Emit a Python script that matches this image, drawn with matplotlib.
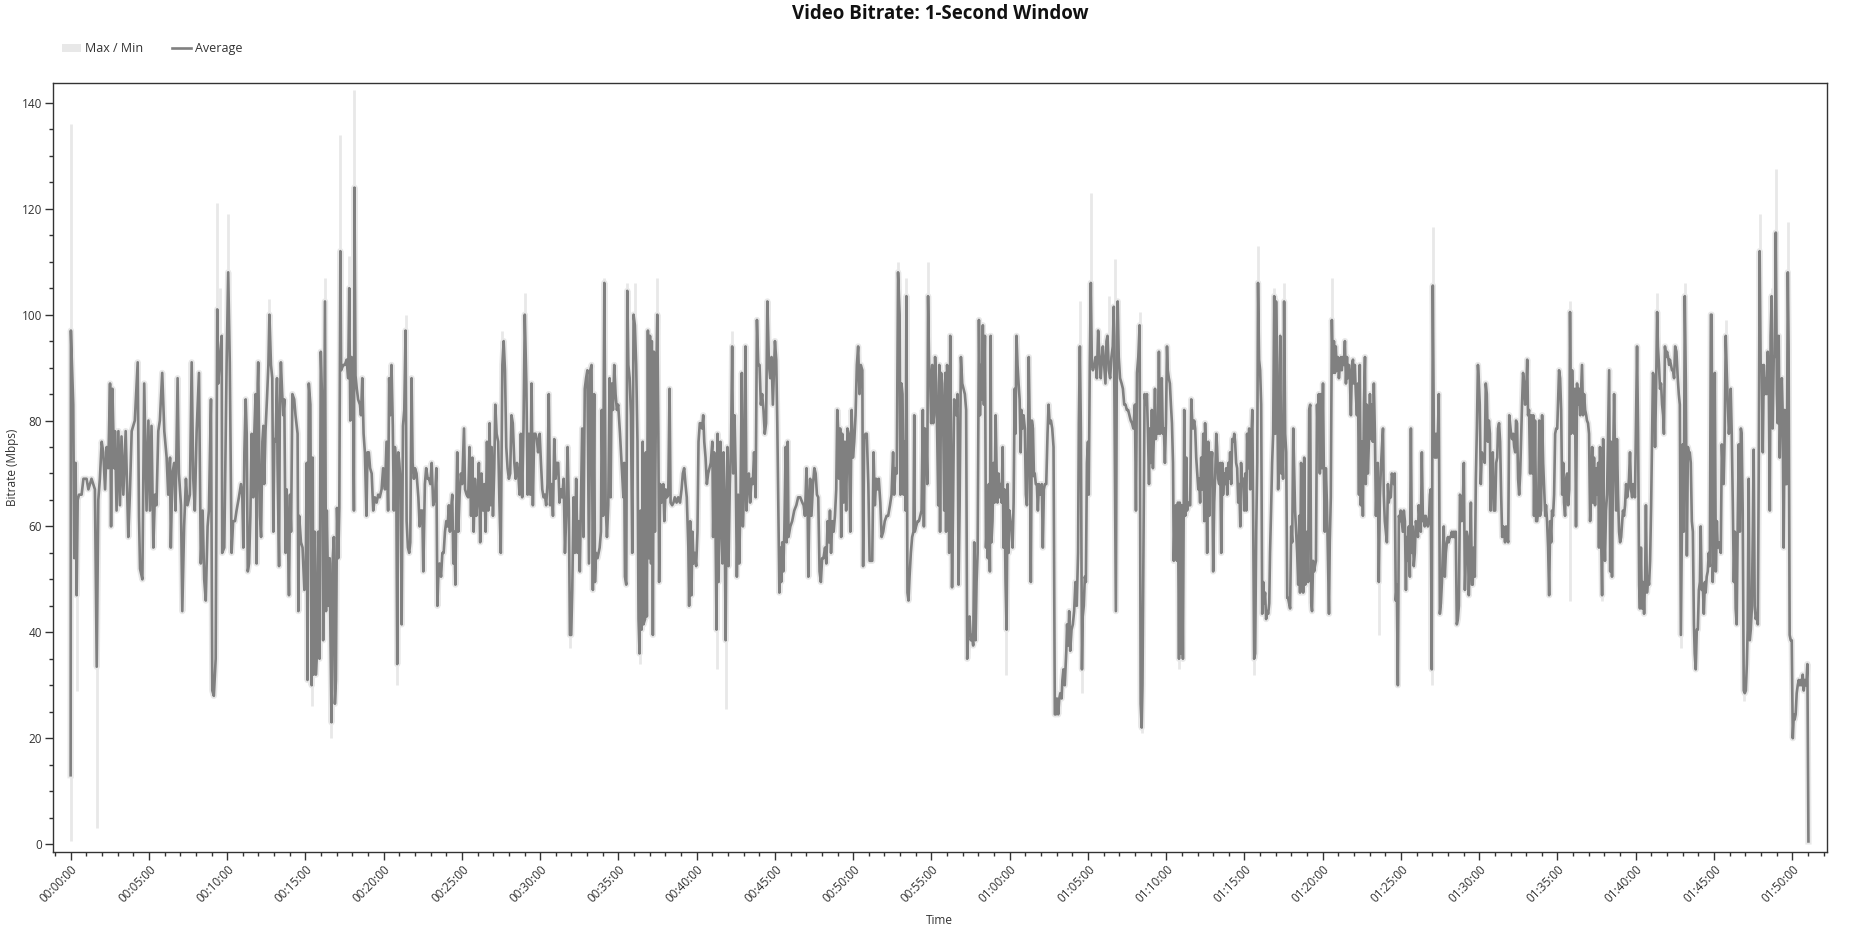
import matplotlib
matplotlib.use("Agg")
import matplotlib.pyplot as plt
from matplotlib.patches import Patch
from matplotlib.lines import Line2D
from matplotlib.ticker import MultipleLocator, FuncFormatter

plt.rcParams['font.family'] = ['Open Sans', 'DejaVu Sans']

# average bitrate per window (seconds, Mbps)
seconds = [
    0, 1, 4, 10, 14, 19, 23, 27, 32, 42,
    49, 61, 68, 80, 93, 100, 106, 112, 119, 125,
    132, 138, 144, 151, 155, 160, 167, 170, 176, 183,
    189, 195, 202, 211, 221, 227, 234, 246, 257, 262,
    266, 275, 282, 291, 298, 304, 310, 317, 323, 329,
    336, 342, 351, 359, 368, 374, 381, 384, 390, 397,
    402, 410, 415, 423, 428, 435, 442, 448, 457, 464,
    470, 476, 483, 492, 499, 506, 512, 518, 525, 530,
    538, 543, 549, 556, 562, 566, 571, 579, 581, 589,
    598, 604, 610, 617, 623,
    630, 636, 645, 653, 658, 662, 666, 671, 675, 679,
    684, 689, 694, 700, 704, 709, 713, 717, 719, 726,
    730, 735, 739, 742, 747, 753, 758, 762, 768, 773,
    777, 781, 786, 791, 793, 799, 802, 806, 811, 815,
    819, 824, 828, 832, 837, 841, 845, 850, 857, 862,
    870, 873, 876, 883, 889, 896, 901, 905, 908, 913,
    919, 924, 928, 931, 936, 940, 944, 949, 954, 959,
    965, 968, 975, 979, 982, 988, 993, 996, 1000, 1004,
    1009, 1013, 1017, 1021, 1026, 1030, 1034, 1037, 1045, 1051,
    1058, 1064, 1068, 1072, 1077, 1082, 1086, 1088, 1092, 1097,
    1102, 1109, 1113, 1118, 1123, 1128, 1134, 1138, 1143, 1148,
    1154, 1160, 1166, 1173, 1179, 1185, 1192, 1198, 1205, 1211,
    1217, 1221, 1225, 1230, 1235, 1239, 1243, 1248, 1252, 1256,
    1260, 1265, 1269, 1274, 1279, 1284, 1288, 1293, 1298, 1302,
    1307, 1311, 1316,
    1320, 1326, 1333, 1338, 1343, 1348, 1352, 1358, 1363, 1369,
    1374, 1379, 1384, 1390, 1397, 1402, 1406, 1409, 1414, 1420,
    1425, 1430, 1435, 1440, 1445, 1450, 1454, 1458, 1463, 1467,
    1471, 1475, 1478, 1482, 1486, 1491, 1496, 1501, 1508, 1512,
    1518, 1524, 1529, 1535, 1540, 1545, 1550, 1555, 1560, 1565,
    1570, 1575, 1581, 1586, 1591, 1596, 1601, 1606, 1610, 1614,
    1619, 1624, 1628, 1633, 1639, 1644, 1649, 1655, 1660, 1665,
    1670, 1675, 1680, 1685, 1690, 1695, 1701, 1706, 1711, 1716,
    1721, 1726, 1731, 1736, 1741, 1747, 1752, 1757, 1762, 1767,
    1772, 1777, 1782, 1787, 1792, 1798, 1803, 1808, 1813, 1818,
    1823, 1828, 1833, 1838, 1844, 1849, 1854, 1859, 1864, 1869,
    1874, 1879, 1884, 1890, 1895, 1900, 1905, 1910, 1914, 1919,
    1923, 1928, 1933, 1938, 1943, 1948, 1952, 1956, 1961, 1966,
    1971, 1976, 1981, 1987, 1992, 1997, 2002, 2007,
    2010, 2014, 2020, 2028, 2033, 2036, 2041, 2046, 2051, 2056,
    2061, 2066, 2070, 2074, 2079, 2084, 2089, 2094, 2099, 2106,
    2112, 2119, 2122, 2125, 2130, 2134, 2138, 2143, 2148, 2153,
    2158, 2163, 2168, 2173, 2177, 2181, 2185, 2189, 2193, 2196,
    2202, 2205, 2209, 2213, 2217, 2221, 2225, 2228, 2232, 2236,
    2240, 2244, 2249, 2253, 2256, 2260, 2265, 2272, 2276, 2281,
    2286, 2291, 2296, 2300, 2306, 2311, 2316, 2323, 2329, 2336,
    2342, 2347, 2352, 2357, 2362, 2368, 2371, 2375, 2380, 2384,
    2388, 2393, 2398, 2403, 2407, 2412, 2416, 2421, 2425, 2429,
    2434, 2439, 2444, 2449, 2454, 2460, 2463, 2467, 2472, 2476,
    2480, 2484, 2488, 2491, 2495, 2499, 2503, 2507, 2511, 2514,
    2518, 2522, 2527, 2532, 2536, 2540, 2545, 2550, 2554, 2559,
    2563, 2568, 2573, 2577, 2582, 2587, 2591, 2595, 2600, 2605,
    2610, 2615, 2620, 2626, 2631, 2636, 2641, 2646, 2651, 2656,
    2661, 2666, 2671, 2677, 2682, 2687, 2692, 2697,
    2700, 2705, 2709, 2713, 2717, 2720, 2724, 2728, 2732, 2736,
    2741, 2745, 2749, 2752, 2759, 2766, 2774, 2782, 2789, 2797,
    2805, 2810, 2815, 2821, 2825, 2828, 2832, 2835, 2840, 2846,
    2851, 2856, 2861, 2866, 2871, 2876, 2881, 2886, 2892, 2897,
    2902, 2907, 2911, 2915, 2920, 2925, 2930, 2935, 2939, 2943,
    2946, 2950, 2954, 2958, 2963, 2968, 2973, 2978, 2983, 2989,
    2994, 2999, 3004, 3009, 3014, 3019, 3024, 3029, 3035, 3038,
    3042, 3047, 3052, 3058, 3063, 3068, 3073, 3078, 3083, 3088,
    3093, 3098, 3104, 3109, 3115, 3121, 3128, 3134, 3141, 3147,
    3153, 3157, 3162, 3167, 3172, 3178, 3181, 3185, 3189, 3193,
    3197, 3201, 3204, 3208, 3212, 3216, 3221, 3226, 3231, 3234,
    3236, 3241, 3247, 3252, 3257, 3262, 3267, 3271, 3275, 3280,
    3284, 3287, 3291, 3295, 3299, 3303, 3307, 3310, 3314, 3318,
    3322, 3326, 3330, 3333, 3337, 3341, 3345, 3349, 3353, 3356,
    3360, 3364, 3368, 3372, 3376, 3379, 3383, 3387,
    3390, 3395, 3400, 3404, 3408, 3413, 3418, 3423, 3428, 3433,
    3437, 3441, 3446, 3451, 3456, 3460, 3464, 3469, 3473, 3477,
    3482, 3486, 3490, 3493, 3497, 3501, 3505, 3509, 3513, 3516,
    3520, 3524, 3527, 3530, 3534, 3538, 3542, 3546, 3550, 3553,
    3557, 3561, 3565, 3569, 3573, 3576, 3580, 3584, 3588, 3592,
    3596, 3599, 3603, 3607, 3611, 3615, 3619, 3622, 3626, 3630,
    3634, 3638, 3642, 3645, 3649, 3653, 3658, 3662, 3666, 3670,
    3673, 3677, 3681, 3685, 3689, 3693, 3696, 3700, 3704, 3708,
    3712, 3716, 3719, 3723, 3727, 3731, 3735, 3740, 3745, 3749,
    3753, 3758, 3763, 3768, 3773, 3777, 3781, 3786, 3790, 3794,
    3799, 3802, 3806, 3811, 3817, 3820, 3824, 3828, 3832, 3837,
    3842, 3847, 3852, 3857, 3862, 3865, 3869, 3873, 3877, 3880,
    3884, 3888, 3892, 3896, 3900, 3903, 3907, 3911, 3915, 3919,
    3924, 3929, 3934, 3939, 3944, 3949, 3953, 3957, 3962, 3967,
    3971, 3975, 3980, 3985, 3990, 3995, 3999, 4003, 4007, 4011,
    4014, 4018, 4023, 4029, 4034, 4039, 4044, 4049, 4054, 4059,
    4064, 4069, 4074,
    4080, 4084, 4088, 4093, 4098, 4102, 4106, 4109, 4113, 4117,
    4122, 4126, 4130, 4134, 4137, 4141, 4145, 4149, 4153, 4157,
    4160, 4164, 4168, 4172, 4176, 4180, 4183, 4187, 4191, 4195,
    4199, 4203, 4206, 4210, 4214, 4218, 4222, 4226, 4229, 4233,
    4237, 4241, 4245, 4249, 4252, 4256, 4260, 4264, 4269, 4273,
    4277, 4280, 4284, 4288, 4292, 4296, 4300, 4303, 4307, 4311,
    4315, 4319, 4323, 4326, 4330, 4334, 4338, 4342, 4346, 4349,
    4353, 4357, 4361, 4365, 4369, 4372, 4376, 4380, 4384, 4388,
    4392, 4395, 4399, 4403, 4407, 4411, 4415, 4418, 4422, 4426,
    4430, 4434, 4438, 4441, 4445, 4449, 4453, 4457, 4461, 4464,
    4468, 4472, 4476, 4480, 4484, 4487, 4491, 4495, 4499, 4503,
    4507, 4510, 4514, 4518, 4522, 4526, 4530, 4533, 4537, 4541,
    4545, 4549, 4552, 4556, 4560, 4564, 4568, 4572, 4575, 4579,
    4583, 4587, 4591, 4595, 4598, 4602, 4606, 4610, 4614, 4618,
    4621, 4625, 4629, 4633, 4637, 4641, 4644, 4648, 4652, 4656,
    4660, 4664, 4667, 4671, 4675, 4679, 4683, 4687, 4690, 4694,
    4698, 4702, 4706, 4710, 4713, 4717, 4721, 4725, 4729, 4733,
    4736, 4740, 4744, 4748, 4752, 4756, 4759, 4763, 4767,
    4770, 4774, 4778, 4781, 4785, 4789, 4793, 4797, 4801, 4804,
    4808, 4812, 4816, 4820, 4824, 4827, 4831, 4835, 4839, 4843,
    4847, 4850, 4854, 4858, 4862, 4866, 4870, 4873, 4877, 4881,
    4885, 4889, 4893, 4896, 4900, 4904, 4908, 4912, 4916, 4919,
    4923, 4927, 4931, 4935, 4939, 4942, 4946, 4950, 4954, 4958,
    4962, 4965, 4969, 4973, 4977, 4981, 4985, 4988, 4992, 4996,
    5000, 5004, 5008, 5011, 5015, 5019, 5023, 5027, 5031, 5034,
    5038, 5042, 5046, 5050, 5053, 5057, 5061, 5065, 5069, 5073,
    5076, 5080, 5084, 5088, 5092, 5096, 5099, 5103, 5107, 5111,
    5115, 5119, 5122, 5126, 5130, 5134, 5138, 5142, 5145, 5149,
    5153, 5157, 5161, 5165, 5168, 5172, 5176, 5180, 5184, 5188,
    5191, 5195, 5199, 5203, 5207, 5211, 5214, 5218, 5222, 5226,
    5230, 5234, 5237, 5241, 5245, 5249, 5253, 5257, 5260, 5264,
    5268, 5272, 5276, 5280, 5283, 5287, 5291, 5295, 5299, 5303,
    5306, 5310, 5314, 5318, 5322, 5326, 5329, 5333, 5337, 5341,
    5345, 5349, 5352, 5356, 5360, 5364, 5368, 5372, 5375, 5379,
    5383, 5387, 5391, 5395, 5398, 5402, 5406, 5410, 5414, 5418,
    5421, 5425, 5429, 5433, 5437, 5441, 5444, 5448, 5452, 5456,
    5461, 5465, 5469, 5472, 5476, 5480, 5484, 5488, 5492, 5495,
    5499, 5503, 5507, 5511, 5515, 5518, 5522, 5526, 5530, 5534,
    5538, 5541, 5545, 5549, 5553, 5557, 5561, 5564, 5568, 5572,
    5576, 5580, 5584, 5587, 5591, 5595, 5599, 5603, 5607, 5610,
    5614, 5618, 5622, 5626, 5630, 5633, 5637, 5641, 5645, 5649,
    5653, 5656, 5660, 5664, 5668, 5672, 5676, 5679, 5683, 5687,
    5691, 5695, 5699, 5702, 5706, 5710, 5714, 5718, 5722, 5725,
    5729, 5733, 5737, 5741, 5745, 5748, 5752, 5756, 5760, 5764,
    5767, 5771, 5775, 5779, 5783, 5787, 5790, 5794, 5798, 5802,
    5806, 5810, 5813, 5817, 5821, 5825, 5829, 5833, 5836, 5840,
    5844, 5848, 5852, 5856, 5859, 5863, 5867, 5871, 5875, 5879,
    5882, 5886, 5890, 5894, 5898, 5902, 5905, 5909, 5913, 5917,
    5921, 5925, 5928, 5932, 5936, 5940, 5944, 5948, 5951, 5955,
    5959, 5963, 5967, 5971, 5974, 5978, 5982, 5986, 5990, 5994,
    5997, 6001, 6005, 6009, 6013, 6016, 6020, 6024, 6028, 6032,
    6036, 6039, 6043, 6047, 6051, 6055, 6059, 6062, 6066, 6070,
    6074, 6078, 6082, 6085, 6089, 6093, 6097, 6101, 6105, 6108,
    6112, 6116, 6120, 6124, 6128, 6131, 6135, 6139, 6143, 6147,
    6151, 6156, 6161, 6165, 6169, 6173, 6177, 6180, 6184, 6188,
    6192, 6196, 6200, 6203, 6207, 6211, 6215, 6219, 6223, 6226,
    6230, 6234, 6238, 6242, 6246, 6249, 6253, 6257, 6261, 6265,
    6268, 6272, 6276, 6280, 6284, 6288, 6291, 6295, 6299, 6303,
    6307, 6311, 6314, 6318, 6322, 6326, 6330, 6334, 6337, 6341,
    6345, 6349, 6353, 6357, 6360, 6364, 6368, 6372, 6376, 6380,
    6383, 6387, 6391, 6395, 6399, 6403, 6406, 6410, 6414, 6418,
    6422, 6426, 6429, 6433, 6437, 6441, 6445, 6449, 6452, 6456,
    6460, 6464, 6468, 6472, 6475, 6479, 6483, 6487, 6491, 6495,
    6498, 6502, 6506, 6510, 6514, 6517, 6521, 6525, 6529, 6533,
    6537, 6541, 6544, 6548, 6552, 6556, 6560, 6563, 6567, 6571,
    6575, 6579, 6583, 6586, 6590, 6594, 6598, 6602, 6606, 6609,
    6613, 6617, 6621, 6625, 6629, 6632, 6636, 6640, 6644, 6648,
    6652, 6655, 6658, 6662,
]

avg_mbps = [
    13, 97, 92, 83, 54, 72, 47, 65, 66, 66,
    69, 69, 67, 69, 67, 33.5, 65, 69, 76, 74,
    67, 75, 71, 87, 60, 86, 71, 78, 63, 78,
    64, 77, 66, 78, 58, 66, 78, 80, 91, 62,
    52, 50, 87, 63, 80, 63, 79, 56, 66, 64,
    78, 80, 89, 78, 73, 66, 73, 56, 70, 72,
    63, 88, 70, 64, 44, 60, 69, 64, 66, 91,
    69, 63, 78, 89, 53, 63, 50, 46, 60, 63,
    84, 29, 28, 35, 101, 87, 91, 96, 55, 56,
    91, 108, 91, 55, 61,
    61, 63, 65.5, 68, 66, 56, 74, 84, 77.5, 51.5,
    53, 62, 77.5, 65.5, 77.5, 85, 53, 87, 91, 62,
    58, 76, 79, 68, 78, 84.5, 90.5, 100, 90.5, 88,
    59, 76.5, 76, 88, 72, 52.5, 83, 91, 85, 81,
    84, 55, 67, 61, 47, 66, 59, 85, 84, 81,
    77.5, 44, 62, 57, 56, 48, 50.5, 72, 31, 87,
    83, 30, 73, 32, 59, 32, 36, 59, 35, 93,
    82, 38.5, 102.5, 44, 63, 45, 54, 39.5, 23, 53,
    58, 26.5, 31, 63.5, 54, 63.5, 112, 89.5, 90.5, 90.5,
    91.5, 88, 105, 80, 92, 88.5, 63, 124, 88.5, 86,
    84, 83, 81, 88, 77.5, 74, 62, 74, 74, 71,
    70, 63, 65.5, 64.5, 66, 65.5, 67, 71, 67, 76,
    63, 88, 81, 90.5, 79, 63, 75, 72, 34, 74,
    72, 68, 41.5, 79, 82, 97, 61, 56, 55, 57,
    88, 72, 69,
    71, 70, 65.5, 60, 63, 63, 51.5, 68, 71, 69,
    69, 68, 72, 64, 65.5, 71, 45, 50, 53, 50.5,
    55, 55, 59, 61, 60, 64, 59, 63, 66, 53,
    59, 49, 62, 74, 59, 66, 70, 68, 78.5, 67,
    66, 65.5, 75, 62, 73, 59, 69, 62, 65.5, 72,
    57, 70, 63, 68, 59, 76, 63, 79.5, 64, 75,
    62, 71, 83, 77.5, 76, 64, 55, 90.5, 95, 89.5,
    75, 71, 69, 70, 81, 79.5, 72, 69, 72, 70,
    66, 77.5, 65.5, 78.5, 100, 87, 66, 77.5, 66, 87,
    64, 77.5, 77.5, 76.5, 74, 77.5, 72, 67, 65.5, 66,
    64, 68, 85, 64, 68, 62, 76.5, 69, 72, 72,
    64.5, 67, 65.5, 69, 55, 62, 75, 63, 39.5, 39.5,
    48, 65.5, 55, 69, 55, 61, 51.5, 63, 78.5, 58,
    86, 88, 89.5, 53, 89.5, 90.5, 48, 85,
    49.5, 55, 54, 56, 59, 82, 62, 106, 64, 58,
    64, 88, 65.5, 87, 82, 90.5, 85, 82, 83, 77.5,
    72, 65.5, 72, 50.5, 49, 104.5, 90.5, 88, 81, 55,
    100, 98, 90.5, 76, 42.5, 36, 63, 40.5, 76, 41.5,
    42.5, 74, 43, 97, 54, 96, 53, 95, 39.5, 93,
    59, 85, 100, 77.5, 49.5, 68, 64.5, 68, 61, 67,
    65.5, 66, 86, 64.5, 64, 64.5, 65.5, 64.5, 65.5, 64.5,
    67, 70, 71, 68, 65.5, 56, 45, 61, 47, 59,
    53, 55, 52.5, 59, 76, 79.5, 79.5, 78.5, 81, 76,
    73, 68, 70, 71, 72, 76, 58, 74, 61, 40.5,
    77.5, 49.5, 64, 76, 60, 53, 74, 63, 38.5, 61,
    75, 52.5, 68, 76.5, 94, 70, 81, 69, 50.5, 66,
    53, 65.5, 89, 60, 68, 94, 63, 68, 70, 64.5,
    69, 68, 74, 65.5, 99, 90.5, 90.5, 83, 85, 82,
    77.5, 79.5, 102.5, 90.5, 88, 92, 83, 90.5,
    95, 91.5, 79.5, 63, 47.5, 56, 49.5, 57, 51.5, 59,
    75, 57, 76, 58, 60, 61, 63, 64, 65.5, 65.5,
    64.5, 64, 62, 71, 64.5, 50.5, 64, 69, 62, 68,
    71, 70, 66, 65.5, 51.5, 49.5, 54, 54, 56, 53,
    61, 57, 63, 55, 61, 59, 62, 67, 82, 77.5,
    69, 78.5, 58, 77.5, 64.5, 76, 63, 78.5, 77.5, 59,
    82, 73, 76, 81, 90.5, 94, 85, 90.5, 89.5, 52.5,
    76.5, 77.5, 77.5, 68, 53.5, 53.5, 53.5, 74, 64, 69,
    67, 69, 64.5, 58, 59, 61, 62, 62, 64, 66,
    74, 66, 71, 70, 108, 100, 66, 87, 85, 66,
    76, 63, 103.5, 47.5, 46, 50.5, 55, 58, 59, 81,
    59, 60, 61, 61, 62, 63, 82, 60, 78.5, 77.5,
    68, 103.5, 90.5, 88, 79.5, 90.5, 79.5, 81, 92, 87,
    77.5, 64, 90.5, 59, 89, 87, 79.5, 63, 89, 59,
    90.5, 82, 55, 96, 69, 48.5, 64.5, 84,
    83, 81, 85, 49, 64, 92, 87, 86, 85, 82,
    35, 40.5, 43, 38.5, 39.5, 37.5, 57, 38.5, 49.5, 55,
    99, 81, 90.5, 84, 98, 83, 96, 56, 61, 54,
    68, 51.5, 96, 57, 61, 72, 64.5, 81, 70, 64.5,
    70, 65.5, 68, 64.5, 75, 56, 67, 49.5, 40.5, 68,
    55, 63, 61, 60, 56, 64.5, 86, 77.5, 96, 90.5,
    87, 84, 74, 82, 78.5, 81, 78.5, 66, 64, 75,
    92, 77.5, 49.5, 80, 78.5, 69.5, 70, 68, 68, 63,
    68, 67, 66, 68, 56, 67, 68, 68, 77.5, 83,
    79.5, 80, 78.5, 75, 24.5, 24.5, 27.5, 24.5, 27.5, 28.5,
    27.5, 31, 33, 30, 36.5, 41.5, 37.5, 44, 36.5, 40.5,
    41.5, 44, 49.5, 45, 55, 79.5, 94, 77.5, 33, 43,
    45, 50.5, 49.5, 72, 76, 66, 90.5, 106, 90.5, 89.5,
    90.5, 92, 88, 97, 92, 88, 91.5, 94, 90.5, 87,
    95, 96, 89.5, 88, 92, 94, 101.5, 73, 44, 96,
    102.5, 92, 88, 87, 86, 83, 83, 82, 82, 81,
    80, 79.5, 78.5,
    83, 63, 89, 92, 98, 26.5, 22, 30, 59, 85,
    83, 85, 77.5, 68, 78.5, 72, 82, 71, 77.5, 86,
    76.5, 79.5, 77.5, 93, 77.5, 79.5, 88, 77.5, 78.5, 72,
    79.5, 94, 89.5, 88, 87, 83, 79.5, 72, 53.5, 63,
    64, 53.5, 64.5, 35, 64.5, 36, 64, 35, 82, 62,
    73, 63, 64.5, 64, 64, 84, 79.5, 78.5, 80, 78.5,
    73, 70, 67, 69, 64.5, 73, 67, 77.5, 61, 79.5,
    72, 55, 76, 62, 74, 71, 74, 51.5, 64.5, 70,
    77.5, 75, 69, 68, 72, 55, 72, 66, 70, 68,
    71, 66, 72, 69, 74, 68, 76.5, 76, 77.5, 76,
    72, 71, 64.5, 68, 60, 72, 68, 69, 63, 70,
    63, 77.5, 71, 78.5, 67, 76, 82, 64.5, 35, 36,
    59, 72, 106, 91.5, 89.5, 83, 43.5, 49.5, 45.5, 47.5,
    42.5, 44, 43.5, 45.5, 55, 63, 72, 77.5, 103.5, 77.5,
    102.5, 90.5, 67, 76, 96, 70, 76, 69, 102.5, 77.5,
    74, 46.5, 46.5, 45.5, 44.5, 60, 57, 78.5, 72, 63,
    59, 55, 49, 62, 47.5, 72, 68, 47.5, 73, 49,
    55, 59, 49.5, 82, 83, 45.5, 44, 53.5, 51.5,
    52.5, 53.5, 83, 77.5, 85, 70, 85, 71, 87, 72,
    59, 71, 64.5, 53.5, 43.5, 57, 65.5, 99, 89, 95,
    89, 94, 89.5, 92, 88, 90.5, 92, 89.5, 92, 90.5,
    95, 87, 92, 88, 90.5, 88, 81, 90.5, 91.5, 87,
    90.5, 85, 81, 87, 66, 90.5, 64, 76, 62, 83,
    92, 68, 83, 70, 76, 85, 76.5, 83, 76, 87,
    77.5, 62, 70, 72, 49.5, 65.5, 71, 75, 78.5, 66,
    61, 59, 57, 68, 64.5, 66, 65.5, 70, 69, 68,
    70, 46, 49, 30, 62, 61, 63, 61, 59, 63,
    61, 48, 58, 53.5, 60, 50.5, 78.5, 55, 60, 52.5,
    55, 61, 60, 58, 64, 61, 59, 74, 61, 62,
    60, 62, 61, 60, 61, 66, 67, 33, 105.5, 77.5,
    73, 77.5, 73, 76.5, 85, 43.5, 45.5, 49.5, 54.5, 60,
    50.5, 55, 57, 58, 57, 58, 58, 59, 58, 59,
    58, 59, 41.5, 42.5, 45, 66, 65.5, 61, 64, 72,
    48, 55, 59, 58, 47, 54, 64.5, 49, 49, 56,
    50.5, 69, 78.5, 90.5, 88, 83, 68, 74, 73, 73,
    72, 87, 85, 76, 80, 77.5, 63, 72, 74, 63,
    63, 72, 73, 78.5, 79.5, 76, 66, 58, 60, 59,
    57, 60, 58, 57, 81, 79.5, 77.5, 76.5, 77.5, 75,
    74, 80, 79.5, 69, 66, 70, 77.5, 83, 89, 87,
    83, 85.5, 91.5, 81, 82, 70, 81, 70, 81, 62,
    80, 61, 61, 63, 80, 62, 63, 81, 72, 67,
    62, 64, 61, 56, 47, 61, 57, 63, 62, 66,
    77.5, 78.5, 78.5, 83, 89.5, 88, 82, 66, 72, 64.5,
    62, 69, 70, 64, 67, 100.5, 77.5, 89.5, 83, 77.5,
    86, 60, 87, 83, 86, 81, 85, 90.5, 81, 85,
    82, 81, 80, 79.5, 77.5, 61, 66, 75, 64.5, 73,
    64, 71, 66, 72, 56, 75, 59, 47, 76.5, 59,
    53.5, 63, 66, 77.5, 89.5, 51.5, 76, 50.5, 72, 85,
    72, 63, 76.5, 66, 59, 57, 58, 61, 63, 62,
    64, 68, 65.5, 67, 69, 74, 67, 65.5, 68, 66,
    65.5, 79.5, 94, 77.5, 49, 44.5, 56, 44.5, 49.5, 43.5,
    50.5, 64, 47.5, 50.5, 49, 53.5, 64, 75, 89, 88,
    75, 86, 100.5, 94, 90.5, 86, 87, 83, 81, 77.5,
    94, 92, 93, 92, 90.5, 91.5, 90.5, 89.5, 89.5, 88,
    94, 93, 88, 85, 83, 39.5, 61, 75.5, 59, 103.5,
    87, 54.5, 75, 74, 74, 72, 61, 59, 41.5, 36,
    33, 40.5, 40.5, 48, 49.5, 60, 48, 49, 43.5, 49.5,
    47.5, 50.5, 51.5, 55, 52.5, 100, 100, 49.5, 56, 89,
    51.5, 61, 56, 57, 56, 55, 75.5, 70, 68, 77.5,
    96, 89, 83, 77.5, 79.5, 86, 77.5, 64.5, 49.5, 59,
    44.5, 41.5, 61, 75.5, 59, 78.5, 77.5, 63, 29, 28.5,
    29, 34, 40.5, 69, 38.5, 40.5, 44.5, 60, 74.5, 45,
    42.5, 43.5, 41.5, 75.5, 112, 89.5, 90.5, 74, 90.5, 85,
    88, 85, 93, 87, 63, 96, 103.5, 78.5, 92, 92,
    115.5, 85, 79.5, 96, 73, 83, 88, 82, 56, 82,
    68, 68, 108, 94, 39.5, 38.5, 38.5, 20, 24.5, 23.5,
    24.5, 28.5, 30, 31, 30, 31, 30, 32, 29, 31,
    30, 31, 34, 0.5,
]

# windows where max / min stretch well away from the average
spike_sec = [0, 23, 100, 562, 573, 604, 762, 924, 975, 1000,
             1034, 1068, 1088, 1252, 1284, 1655, 1741, 1914, 2046, 2134,
             2163, 2181, 2249, 2476, 2511, 2536, 3172, 3204, 3287, 3584,
             3869, 3877, 3911, 3980, 4003, 4098, 4106, 4249, 4537, 4552,
             4614, 4652, 4835, 5015, 5088, 5218, 5222, 5748, 5871, 6082,
             6173, 6188, 6288, 6345, 6414, 6475, 6521, 6537, 6583]
spike_lo = [0.5, 29, 3, 98, 90, 100, 95, 26, 95, 20,
            105, 100, 118, 30, 94, 85, 95, 37, 100, 100,
            94, 34, 95, 33, 25.5, 88, 100, 98, 98, 32,
            90, 28.5, 100, 88, 70, 92, 21, 33, 32, 100,
            98, 98, 95, 39.5, 30, 30, 100, 46, 46, 96,
            37, 98, 95, 92, 27, 108, 100, 110, 104]
spike_hi = [136, 62, 68, 121, 105, 119, 103, 33, 107, 30,
            134, 111, 142.5, 40, 100, 97, 104, 42, 107, 106,
            106, 40, 107, 45, 40, 97, 110, 107, 110, 52,
            102.6, 36, 123, 103.5, 110.5, 100.5, 28, 40, 38, 113,
            105, 106, 107, 52, 36, 40, 116.5, 102.5, 50, 104,
            45, 106, 100.5, 99, 32, 119, 105, 127.5, 117.5]

band_color = '#e8e8e8'
line_color = '#808080'
text_color = '#333333'


def hms(x, pos):
    x = int(round(x))
    return '%02d:%02d:%02d' % (x // 3600, (x % 3600) // 60, x % 60)


fig = plt.figure(figsize=(18.5, 9.33), dpi=100)
ax = fig.add_axes([0.0286, 0.0868, 0.9588, 0.8239])

# light max/min band: halo around the average plus the tall excursions
ax.plot(seconds, avg_mbps, color=band_color, lw=4.5, solid_joinstyle='round', zorder=1)
ax.vlines(spike_sec, spike_lo, spike_hi, color=band_color, lw=2, zorder=1)
ax.plot(seconds, avg_mbps, color=line_color, lw=1.9, zorder=2)

ax.set_xlim(-68, 6732)
ax.set_ylim(-1.5, 143.7)

ax.xaxis.set_major_locator(MultipleLocator(300))
ax.xaxis.set_minor_locator(MultipleLocator(60))
ax.xaxis.set_major_formatter(FuncFormatter(hms))
ax.yaxis.set_major_locator(MultipleLocator(20))
ax.yaxis.set_minor_locator(MultipleLocator(5))

ax.tick_params(which='major', length=6, width=1, color=text_color,
               labelsize=8.5, labelcolor=text_color, pad=2)
ax.tick_params(which='minor', length=3, width=1, color=text_color)
ax.tick_params(axis='x', labelrotation=45)
for lbl in ax.get_xticklabels():
    lbl.set_ha('right')
    lbl.set_rotation_mode('anchor')

for sp in ax.spines.values():
    sp.set_color(text_color)
    sp.set_linewidth(1)

fig.text(0.508, 0.985, 'Video Bitrate: 1-Second Window', ha='center', va='center',
         fontsize=13.5, fontweight='bold', color='#111111')
fig.text(0.5076, 0.0129, 'Time', ha='center', va='center', fontsize=8.5, color=text_color)
fig.text(0.0065, 0.4995, 'Bitrate (Mbps)', ha='center', va='center', rotation=90,
         fontsize=8.5, color=text_color)

handles = [Patch(facecolor=band_color, edgecolor='none', label='Max / Min'),
           Line2D([], [], color=line_color, lw=1.9, label='Average')]
fig.legend(handles=handles, loc='center left', bbox_to_anchor=(0.0335, 0.9475),
           ncol=2, frameon=False, fontsize=9, handlelength=1.5, handletextpad=0.35,
           columnspacing=2.3, borderpad=0, borderaxespad=0, labelcolor=text_color)

fig.savefig('out.png', dpi=100)
